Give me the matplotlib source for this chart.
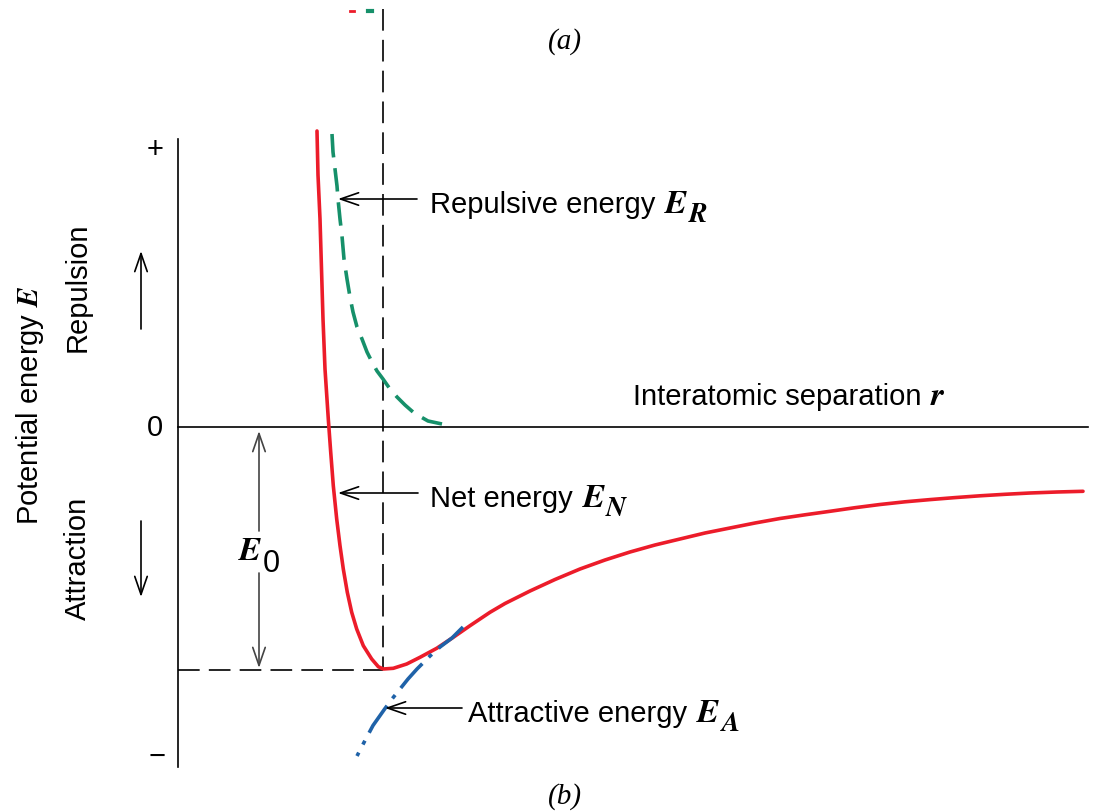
import matplotlib
matplotlib.use("Agg")
import matplotlib.pyplot as plt

plt.rcParams['font.family'] = ['Liberation Sans', 'DejaVu Sans']
plt.rcParams['mathtext.fontset'] = 'stix'

# Curves (r = separation, E = energy, arbitrary units)
net_r = [1.39, 1.40, 1.42, 1.435, 1.45, 1.47, 1.503, 1.527, 1.553, 1.587, 1.62, 1.653,
         1.693, 1.737, 1.787, 1.853, 1.937, 2.003, 2.053, 2.153, 2.287, 2.42, 2.587, 2.753,
         2.92, 3.02, 3.12, 3.27, 3.52, 3.77, 4.02, 4.27, 4.52, 4.77, 5.02, 5.27,
         5.52, 5.77, 6.02, 6.27, 6.52, 6.77, 7.02, 7.27, 7.52, 7.77, 8.02, 8.27,
         8.52, 8.79, 9.05]
net_E = [2.96, 2.52, 2.08, 1.58, 1.08, 0.58, 0.08, -0.25, -0.587, -0.92, -1.187, -1.42,
         -1.653, -1.853, -2.02, -2.187, -2.32, -2.397, -2.42, -2.413, -2.37, -2.303, -2.213, -2.103,
         -1.987, -1.92, -1.853, -1.765, -1.64, -1.525, -1.42, -1.33, -1.25, -1.18, -1.12, -1.06,
         -1.01, -0.96, -0.915, -0.878, -0.843, -0.807, -0.775, -0.748, -0.726, -0.706, -0.688, -0.673,
         -0.66, -0.65, -0.643]

rep_r = [1.54, 1.55, 1.57, 1.59, 1.60, 1.62, 1.64, 1.66, 1.69, 1.72, 1.75, 1.79,
         1.84, 1.89, 1.94, 1.99, 2.05, 2.12, 2.19, 2.27, 2.35, 2.43, 2.50, 2.64]
rep_E = [2.93, 2.75, 2.58, 2.41, 2.28, 2.08, 1.91, 1.68, 1.48, 1.30, 1.15, 1.00,
         0.88, 0.75, 0.65, 0.56, 0.48, 0.38, 0.30, 0.22, 0.15, 0.10, 0.06, 0.03]

att_r = [2.85, 2.74, 2.62, 2.52, 2.39, 2.30, 2.22, 2.14, 2.07, 2.01, 1.95, 1.87, 1.79]
att_E = [-2.00, -2.11, -2.20, -2.29, -2.42, -2.52, -2.62, -2.72, -2.815, -2.90, -2.985, -3.135, -3.29]

r0 = 2.05      # equilibrium separation
E0 = -2.43     # bonding energy level

fig = plt.figure(figsize=(10.95, 8.12), dpi=100)
ax = fig.add_axes([0, 0, 1, 1])
ax.set_xlim(-1.78, 9.17)
ax.set_ylim(-3.84, 4.28)
ax.axis('off')
renderer = fig.canvas.get_renderer()
inv = ax.transData.inverted()

red = '#ec1c2a'
green = '#16906a'
blue = '#1f62a8'

# axes of the diagram
ax.plot([0, 0], [2.88, -3.40], color='black', lw=1.2)
ax.plot([0, 9.10], [0, 0], color='black', lw=1.2)

# guide lines
ax.plot([r0, r0], [4.18, E0], color='black', lw=1.2, linestyle=(0, (13, 5.5)))
ax.plot([0, r0], [E0, E0], color='black', lw=1.2, linestyle=(0, (13, 5.5)))

# curves
ax.plot(rep_r, rep_E, color=green, lw=2.6, linestyle=(0, (6.5, 3)))
ax.plot(net_r, net_E, color=red, lw=2.6, solid_joinstyle='round', solid_capstyle='round')
ax.plot(att_r, att_E, color=blue, lw=2.6, linestyle=(0, (9, 2.5, 1.2, 2.5)))

# remnants of panel (a)
ax.plot([1.72, 1.76], [4.16, 4.16], color=red, lw=2)
ax.plot([1.90, 1.94], [4.16, 4.16], color=green, lw=3)

fs = 21
arrow = dict(arrowstyle='->,head_length=1.3,head_width=0.45', lw=1.2, color='black',
             shrinkA=0, shrinkB=0)


def energy_label(x, y, words, sym, sub):
    t = ax.text(x, y, words, fontsize=fs, va='baseline')
    bb = t.get_window_extent(renderer)
    ex = inv.transform((bb.x1 + 9, 0))[0]
    e = ax.text(ex, y, r'$\mathbfit{%s}$' % sym, fontsize=24, va='baseline')
    bb2 = e.get_window_extent(renderer)
    sx = inv.transform((bb2.x1 - 1, 0))[0]
    ax.text(sx, y - 0.09, r'$\mathbfit{%s}$' % sub, fontsize=20, va='baseline')


ax.annotate('', xy=(1.60, 2.28), xytext=(2.39, 2.28), arrowprops=arrow)
energy_label(2.52, 2.15, 'Repulsive energy', 'E', 'R')

ax.annotate('', xy=(1.60, -0.66), xytext=(2.40, -0.66), arrowprops=arrow)
energy_label(2.52, -0.79, 'Net energy', 'E', 'N')

ax.annotate('', xy=(2.07, -2.81), xytext=(2.84, -2.81), arrowprops=arrow)
energy_label(2.90, -2.94, 'Attractive energy', 'E', 'A')

t = ax.text(4.55, 0.23, 'Interatomic separation', fontsize=fs, va='baseline')
bb = t.get_window_extent(renderer)
ax.text(inv.transform((bb.x1 + 9, 0))[0], 0.23, r'$\mathbfit{r}$', fontsize=24, va='baseline')

# E0 double arrow
ax.annotate('', xy=(0.81, -0.04), xytext=(0.81, -1.04),
            arrowprops=dict(arrow, color='#444444'))
ax.annotate('', xy=(0.81, E0 + 0.02), xytext=(0.81, -1.46),
            arrowprops=dict(arrow, color='#444444'))
ax.text(0.60, -1.32, r'$\mathbfit{E}$', fontsize=24, va='baseline')
ax.text(0.85, -1.44, '0', fontsize=22, va='baseline')

# vertical axis labels
ax.text(-0.23, 2.78, '+', fontsize=fs, ha='center', va='center')
ax.text(-0.23, 0.0, '0', fontsize=fs, ha='center', va='center')
ax.text(-0.21, -3.29, '\u2212', fontsize=fs, ha='center', va='center')

ax.text(-1.48, 0.23, r'Potential energy $\mathbfit{E}$', fontsize=fs, rotation=90,
        ha='center', va='center')
ax.text(-1.00, 1.41, 'Repulsion', fontsize=fs, rotation=90, ha='center', va='center')
ax.text(-1.00, -1.30, 'Attraction', fontsize=fs, rotation=90, ha='center', va='center')
ax.annotate('', xy=(-0.37, 1.76), xytext=(-0.37, 0.98), arrowprops=arrow)
ax.annotate('', xy=(-0.37, -1.70), xytext=(-0.37, -0.94), arrowprops=arrow)

# panel labels
ax.text(3.87, 3.86, '(a)', fontsize=fs, family='Liberation Serif', style='italic',
        ha='center', va='center')
ax.text(3.87, -3.69, '(b)', fontsize=fs, family='Liberation Serif', style='italic',
        ha='center', va='center')

fig.savefig('out.png', dpi=100)
